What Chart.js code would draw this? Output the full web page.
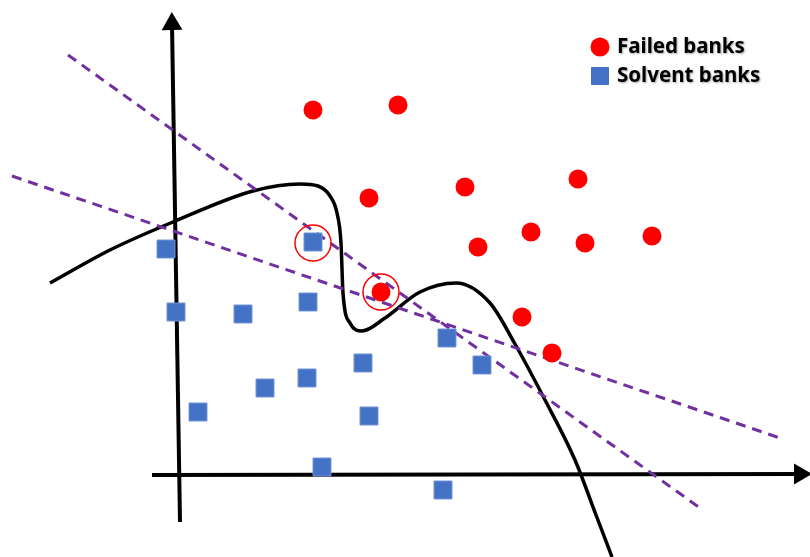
<!DOCTYPE html>
<html>
<head>
<meta charset="utf-8">
<script src="https://cdn.jsdelivr.net/npm/chart.js@4/dist/chart.umd.min.js"></script>
<style>
  html, body { margin: 0; padding: 0; background: #fff; }
  #c { display: block; }
</style>
</head>
<body>
<canvas id="c" width="810" height="557"></canvas>
<script>
// schematic plane, units (y grows downward)
const failedBanks = [
  {x: 313, y: 110}, {x: 398, y: 105}, {x: 369, y: 198}, {x: 465, y: 187},
  {x: 578, y: 179}, {x: 478, y: 247}, {x: 531, y: 232}, {x: 585, y: 243},
  {x: 652, y: 236}, {x: 381, y: 292}, {x: 522, y: 317}, {x: 552, y: 353}
];
const solventBanks = [
  {x: 166, y: 249}, {x: 313, y: 242}, {x: 176, y: 312}, {x: 243, y: 314},
  {x: 308, y: 302}, {x: 447, y: 338}, {x: 482, y: 365}, {x: 363, y: 363},
  {x: 307, y: 378}, {x: 265, y: 388}, {x: 198, y: 412}, {x: 369, y: 416},
  {x: 322, y: 467}, {x: 443, y: 490}
];
const misclassified = [{x: 313, y: 243}, {x: 381, y: 292}];
const boundaryCurve = [
  {x: 50, y: 283}, {x: 110, y: 250}, {x: 173, y: 222}, {x: 253, y: 191},
  {x: 300, y: 184}, {x: 318, y: 186}, {x: 330, y: 196}, {x: 337, y: 213},
  {x: 341, y: 243}, {x: 343, y: 293}, {x: 350, y: 323}, {x: 362, y: 331},
  {x: 385, y: 318}, {x: 420, y: 292}, {x: 456, y: 283}, {x: 490, y: 303},
  {x: 515, y: 344}, {x: 545, y: 400}, {x: 575, y: 460}, {x: 596, y: 515},
  {x: 612, y: 557}
];
const linearBoundaryA = [{x: 68, y: 55}, {x: 700, y: 508}];
const linearBoundaryB = [{x: 12, y: 176}, {x: 780, y: 438}];
const yAxisLine = [{x: 180, y: 522}, {x: 172, y: 24}];
const xAxisLine = [{x: 152, y: 475}, {x: 800, y: 474}];
const legendLabels = ['Failed banks', 'Solvent banks'];

const RED = '#ff0000';
const BLUE = '#4472c4';
const PURPLE = '#7030a0';

const legendPlugin = {
  id: 'sketchLegend',
  afterDraw(chart) {
    const ctx = chart.ctx;
    ctx.save();
    ctx.fillStyle = RED;
    ctx.beginPath();
    ctx.arc(600, 47, 9.5, 0, Math.PI * 2);
    ctx.fill();
    ctx.fillStyle = BLUE;
    ctx.fillRect(591, 67, 18, 18);
    ctx.font = 'bold 20.5px "Noto Sans", "DejaVu Sans", sans-serif';
    ctx.textBaseline = 'middle';
    ctx.shadowColor = 'rgba(0,0,0,0.35)';
    ctx.shadowBlur = 2;
    ctx.shadowOffsetX = 1;
    ctx.shadowOffsetY = 1;
    ctx.fillStyle = '#000';
    ctx.fillText(legendLabels[0], 617, 47);
    ctx.fillText(legendLabels[1], 617, 76);
    ctx.restore();
  }
};

new Chart(document.getElementById('c'), {
  type: 'scatter',
  data: {
    datasets: [
      {label: legendLabels[0], data: failedBanks, order: 0,
       pointStyle: 'circle', pointRadius: 9.5, pointHoverRadius: 9.5,
       backgroundColor: RED, borderWidth: 0},
      {label: legendLabels[1], data: solventBanks, order: 0,
       pointStyle: 'rect', pointRadius: 12.7, pointHoverRadius: 12.7,
       backgroundColor: BLUE, borderColor: '#6f93d6', borderWidth: 1},
      {label: 'misclassified', data: misclassified, order: 1,
       pointRadius: 18, backgroundColor: 'rgba(0,0,0,0)',
       borderColor: RED, borderWidth: 1.5},
      {label: 'lineA', data: linearBoundaryA, order: 2, showLine: true,
       pointRadius: 0, borderColor: PURPLE, borderWidth: 3, borderDash: [10, 7]},
      {label: 'lineB', data: linearBoundaryB, order: 2, showLine: true,
       pointRadius: 0, borderColor: PURPLE, borderWidth: 3, borderDash: [10, 7]},
      {label: 'curve', data: boundaryCurve, order: 3, showLine: true,
       pointRadius: 0, borderColor: '#000', borderWidth: 3.5,
       cubicInterpolationMode: 'monotone'},
      {label: 'yAxis', data: yAxisLine, order: 4, showLine: true,
       borderColor: '#000', borderWidth: 4, backgroundColor: '#000',
       pointStyle: 'triangle', pointRadius: [0, 8], rotation: -1},
      {label: 'xAxis', data: xAxisLine, order: 4, showLine: true,
       borderColor: '#000', borderWidth: 4, backgroundColor: '#000',
       pointStyle: 'triangle', pointRadius: [0, 8], rotation: 90}
    ]
  },
  options: {
    responsive: false,
    animation: false,
    events: [],
    clip: false,
    layout: {padding: 0, autoPadding: false},
    plugins: {legend: {display: false}, tooltip: {enabled: false}},
    scales: {
      x: {type: 'linear', min: 0, max: 810, display: false},
      y: {type: 'linear', min: 0, max: 557, reverse: true, display: false}
    }
  },
  plugins: [legendPlugin]
});
</script>
</body>
</html>
